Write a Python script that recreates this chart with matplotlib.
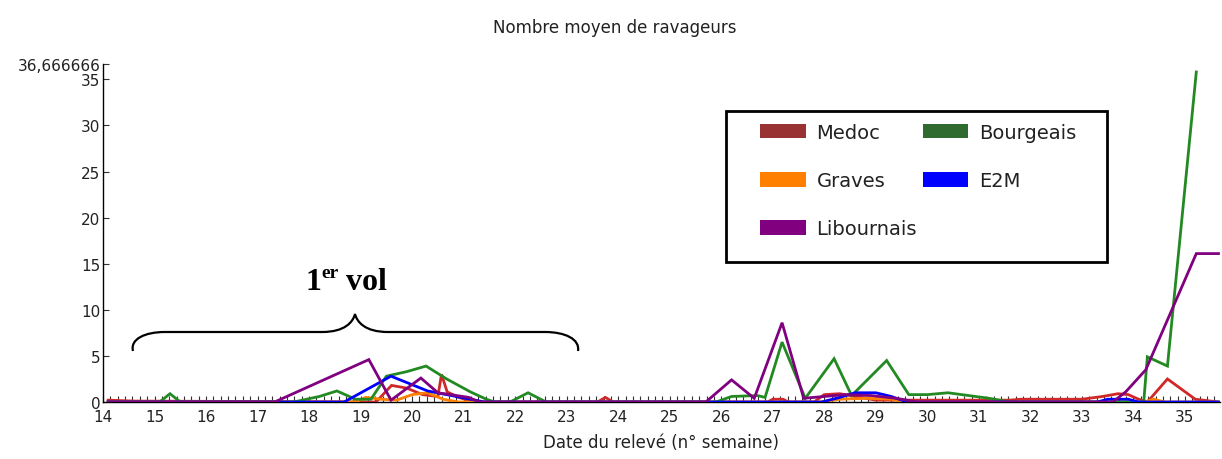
import matplotlib
matplotlib.use("Agg")
import matplotlib.pyplot as plt
from matplotlib.patches import Patch, Rectangle, PathPatch
from matplotlib.path import Path
from matplotlib.ticker import MultipleLocator

W, H = 1222, 460

# ---- data (week number, mean number of pests) ----
medoc_x = [14.1, 14.6, 19.3, 19.6, 19.9, 20.2, 20.5, 20.57, 20.68, 20.9, 21.2, 23.6, 23.75, 23.9,
           26.9, 27.0, 27.2, 27.3, 27.8, 28.0, 28.3, 28.6, 29.0, 31.6, 31.8, 33.0, 33.4, 33.7,
           33.9, 34.1, 34.27, 34.66, 35.2, 35.65]
medoc_y = [0.2, 0.1, 0, 1.8, 1.5, 0.8, 0.6, 3.0, 1.1, 0.5, 0, 0, 0.5, 0,
           0, 0.3, 0.3, 0, 0, 0.8, 0.9, 0.6, 0.2, 0.2, 0.3, 0.3, 0.6, 0.9,
           0.8, 0.3, 0, 2.5, 0.3, 0]

graves_x = [14.1, 18.9, 19.1, 19.4, 19.7, 20.0, 20.3, 20.6, 20.9, 27.9, 28.3, 28.8, 29.3, 29.6,
            34.2, 34.4, 34.6, 35.65]
graves_y = [0, 0, 0.5, 0.3, 0.2, 0.8, 1.0, 0.3, 0, 0, 0.3, 0.4, 0.3, 0,
            0, 0.3, 0, 0]

libournais_x = [14.1, 17.33, 19.16, 19.59, 20.17, 20.5, 21.1, 21.3, 25.7, 26.2, 26.64, 27.18,
                27.6, 28.0, 28.4, 28.9, 29.4, 29.8, 33.6, 33.85, 34.24, 35.22, 35.65]
libournais_y = [0, 0, 4.6, 0.2, 2.6, 1.0, 0.5, 0, 0, 2.4, 0.4, 8.6,
                0.4, 0.6, 0.8, 0.7, 0.4, 0, 0, 1.1, 3.5, 16.1, 16.1]

bourgeais_x = [14.1, 15.1, 15.3, 15.5, 17.7, 18.2, 18.54, 18.9, 19.2, 19.5, 19.9, 20.27, 20.67,
               21.13, 21.44, 21.6, 21.9, 22.25, 22.6, 25.9, 26.2, 26.7, 26.85, 27.18, 27.63,
               28.19, 28.53, 29.21, 29.64, 30.0, 30.4, 30.8, 31.2, 31.6, 34.2, 34.27, 34.66, 35.22]
bourgeais_y = [0, 0, 0.9, 0, 0, 0.6, 1.2, 0.3, 0.3, 2.8, 3.3, 3.9, 2.5,
               1.1, 0.3, 0, 0, 1.0, 0, 0, 0.6, 0.7, 0.5, 6.5, 0.4,
               4.7, 0.7, 4.5, 0.8, 0.8, 1.0, 0.7, 0.4, 0, 0, 4.9, 3.9, 35.8]

e2m_x = [14.1, 18.68, 19.59, 20.3, 21.13, 21.4, 27.95, 28.3, 28.6, 29.0, 29.3, 29.6,
         33.3, 33.5, 33.9, 34.1, 35.65]
e2m_y = [0, 0, 2.8, 1.2, 0.3, 0, 0, 0.5, 1.0, 1.0, 0.6, 0,
         0, 0.3, 0.3, 0, 0]

series_names = ["Medoc", "Graves", "Libournais", "Bourgeais", "E2M"]
y_ticks = [0, 5, 10, 15, 20, 25, 30, 35, 36.666666]
y_ticklabels = ["0", "5", "10", "15", "20", "25", "30", "35", "36,666666"]
x_ticks = list(range(14, 36))

line_colors = {"Medoc": "#d02828", "Graves": "#ff8000", "Libournais": "#800080",
               "Bourgeais": "#238a23", "E2M": "#0000ff"}
legend_colors = {"Medoc": "#993333", "Graves": "#ff8000", "Libournais": "#800080",
                 "Bourgeais": "#2f6a2f", "E2M": "#0000ff"}

data = {"Medoc": (medoc_x, medoc_y), "Graves": (graves_x, graves_y),
        "Libournais": (libournais_x, libournais_y), "Bourgeais": (bourgeais_x, bourgeais_y),
        "E2M": (e2m_x, e2m_y)}

fig = plt.figure(figsize=(W / 100, H / 100), dpi=100)
fig.patch.set_facecolor("white")

def fx(px):
    return px / W

def fy(py):
    return 1 - py / H

ax = fig.add_axes([fx(103), fy(403), fx(1220) - fx(103), fy(65) - fy(403)])

draw_order = ["Medoc", "Graves", "Bourgeais", "E2M", "Libournais"]
for name in draw_order:
    xs, ys = data[name]
    ax.plot(xs, ys, color=line_colors[name], lw=2.0, solid_joinstyle="miter", zorder=3)

ax.set_xlim(14.1, 35.68)
ax.set_ylim(0, 36.666666)

for s in ["top", "right"]:
    ax.spines[s].set_visible(False)
for s in ["left", "bottom"]:
    ax.spines[s].set_color("black")
    ax.spines[s].set_linewidth(1.0)

tick_font = dict(family="DejaVu Sans", size=11, color="#222222")
ax.set_yticks(y_ticks)
ax.set_yticklabels(y_ticklabels, fontdict=tick_font)
ax.set_xticks(x_ticks)
ax.set_xticklabels([str(t) for t in x_ticks], fontdict=tick_font)
ax.xaxis.set_minor_locator(MultipleLocator(1 / 7))
ax.tick_params(axis="both", which="both", direction="in", length=4, width=0.8, color="#333333")
ax.tick_params(axis="x", which="major", pad=5)
ax.tick_params(axis="y", which="major", pad=2)

# title and x label
fig.text(fx(615), fy(28), "Nombre moyen de ravageurs", ha="center", va="center",
         fontsize=12, family="DejaVu Sans", color="#222222")
fig.text(fx(661), fy(443), "Date du relevé (n° semaine)", ha="center", va="center",
         fontsize=12, family="DejaVu Sans", color="#222222")

# legend
handles = [Patch(facecolor=legend_colors[n], edgecolor="none", label=n) for n in series_names]
fig.add_artist(Rectangle((fx(726), fy(263)), fx(1107) - fx(726), fy(112) - fy(263),
                         transform=fig.transFigure, facecolor="white", edgecolor="black",
                         lw=2, zorder=5))
leg = fig.legend(handles=handles, loc="upper left", bbox_to_anchor=(fx(760), fy(124)),
                 ncol=2, frameon=False, fontsize=14, handlelength=2.35, handleheight=0.75,
                 handletextpad=0.55, labelspacing=1.5, columnspacing=0.3,
                 borderpad=0, borderaxespad=0)
leg.set_zorder(6)
for t in leg.get_texts():
    t.set_color("#222222")

# brace annotation "1er vol"
pts = [(133, 352), (130, 340), (145, 333), (165, 333),
       (322, 333),
       (345, 333), (353, 323), (355, 315),
       (357, 323), (365, 333), (388, 333),
       (545, 333),
       (565, 333), (580, 340), (578, 352)]
codes = [Path.MOVETO, Path.CURVE4, Path.CURVE4, Path.CURVE4,
         Path.LINETO,
         Path.CURVE4, Path.CURVE4, Path.CURVE4,
         Path.CURVE4, Path.CURVE4, Path.CURVE4,
         Path.LINETO,
         Path.CURVE4, Path.CURVE4, Path.CURVE4]
brace = Path([(fx(x), fy(y)) for x, y in pts], codes)
fig.add_artist(PathPatch(brace, transform=fig.transFigure, facecolor="none",
                         edgecolor="black", lw=1.6))

serif = dict(family="Liberation Serif", weight="bold", color="black")
fig.text(fx(305), fy(290), "1", ha="left", va="baseline", fontsize=23, **serif)
fig.text(fx(321), fy(278), "er", ha="left", va="baseline", fontsize=14, **serif)
fig.text(fx(346), fy(290), "vol", ha="left", va="baseline", fontsize=23, **serif)

fig.savefig("out.png", dpi=100, facecolor="white")
